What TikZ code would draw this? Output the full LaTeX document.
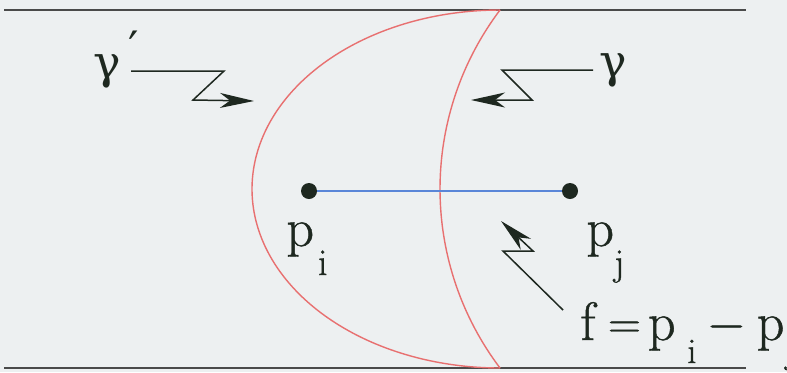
\documentclass[tikz,border=0pt]{standalone}
\usepackage{fontspec}
\newfontfamily\tnr{Latin Modern Roman}[FakeBold=0.8]
\newfontfamily\gk{DejaVu Serif}
\usetikzlibrary{arrows.meta}
\definecolor{bg}{HTML}{EDF0F1}
\definecolor{ink}{HTML}{1E2820}
\definecolor{rulec}{HTML}{4A4A4A}
\definecolor{curvec}{HTML}{E87070}
\definecolor{segc}{HTML}{5A86D8}
\newcommand\mysub[3]{\hspace{#1}\raisebox{-#2}{\fontsize{19}{19}\selectfont #3}}
\newcommand\putat[2]{\rlap{\hspace{#1}#2}}
\begin{document}
\begin{tikzpicture}[x=0.5pt,y=-0.5pt,
  lbl/.style={inner sep=0pt, text=ink, font=\tnr\fontsize{27}{27}\selectfont, anchor=base west},
  dot/.style={circle, fill=ink, inner sep=0pt, minimum size=8pt},
  zz/.style={draw=ink, line width=0.75pt, line join=miter, -{Stealth[length=17pt,width=7.5pt,inset=5pt]}},
  rulel/.style={draw=rulec, line width=1pt},
  bound/.style={draw=curvec, line width=0.7pt},
  segl/.style={draw=segc, line width=0.75pt}]
\fill[bg] (0,0) rectangle (787,372);
\useasboundingbox (0,0) rectangle (787,372);
% rules
\coordinate (tl) at (4,10); \coordinate (tr) at (746,10);
\coordinate (bl) at (4,368); \coordinate (br) at (746,368);
\draw[rulel] (tl) -- (tr);
\draw[rulel] (bl) -- (br);
% curves
\draw[bound] plot[domain=90:270, samples=120, smooth] ({500+248*cos(\x)},{189+179*sin(\x)});
\draw[bound] plot[domain=142.94:217.06, samples=80, smooth] ({737+297*cos(\x)},{189+297*sin(\x)});
% points
\node[dot] (pi) at (309,191) {};
\node[dot] (pj) at (570,191) {};
\draw[segl] (pi) -- (pj);
% labels
\node[lbl] (lpi) at (286,246) {p\mysub{2pt}{14.5pt}{i}};
\node[lbl] (lpj) at (586,246) {p\mysub{0pt}{14.5pt}{j}};
\node[lbl] (gp) at (93,78) {{\gk\fontsize{23}{23}\selectfont γ}\hspace{4pt}\raisebox{7pt}{\gk\fontsize{23}{23}\selectfont ′}};
\node[lbl] (g) at (599,77) {\gk\fontsize{23}{23}\selectfont γ};
\node[lbl] (feq) at (579,340) {\putat{0pt}{f}\putat{13.75pt}{\raisebox{1pt}{\fontsize{23}{23}\selectfont =}}\putat{33.8pt}{p}\putat{53.5pt}{\raisebox{-11.5pt}{\fontsize{18}{18}\selectfont i}}\putat{64pt}{\raisebox{0.5pt}{\fontsize{25}{25}\selectfont −}}\putat{88.2pt}{p}\putat{102.5pt}{\raisebox{-11.5pt}{\fontsize{18}{18}\selectfont j}}\hspace{104pt}};
% zigzag arrows
\coordinate (l1) at (131,71); \coordinate (l2) at (224,71);
\coordinate (l3) at (193,100); \coordinate (l4) at (254,101);
\draw[zz] (l1) -- (l2) -- (l3) -- (l4);
\coordinate (r1) at (593,70); \coordinate (r2) at (502,70);
\coordinate (r3) at (532,100); \coordinate (r4) at (471,100);
\draw[zz] (r1) -- (r2) -- (r3) -- (r4);
\coordinate (b1) at (563,310); \coordinate (b2) at (503,251);
\coordinate (b3) at (533,251); \coordinate (b4) at (501,221);
\draw[zz] (b1) -- (b2) -- (b3) -- (b4);
\end{tikzpicture}
\end{document}
